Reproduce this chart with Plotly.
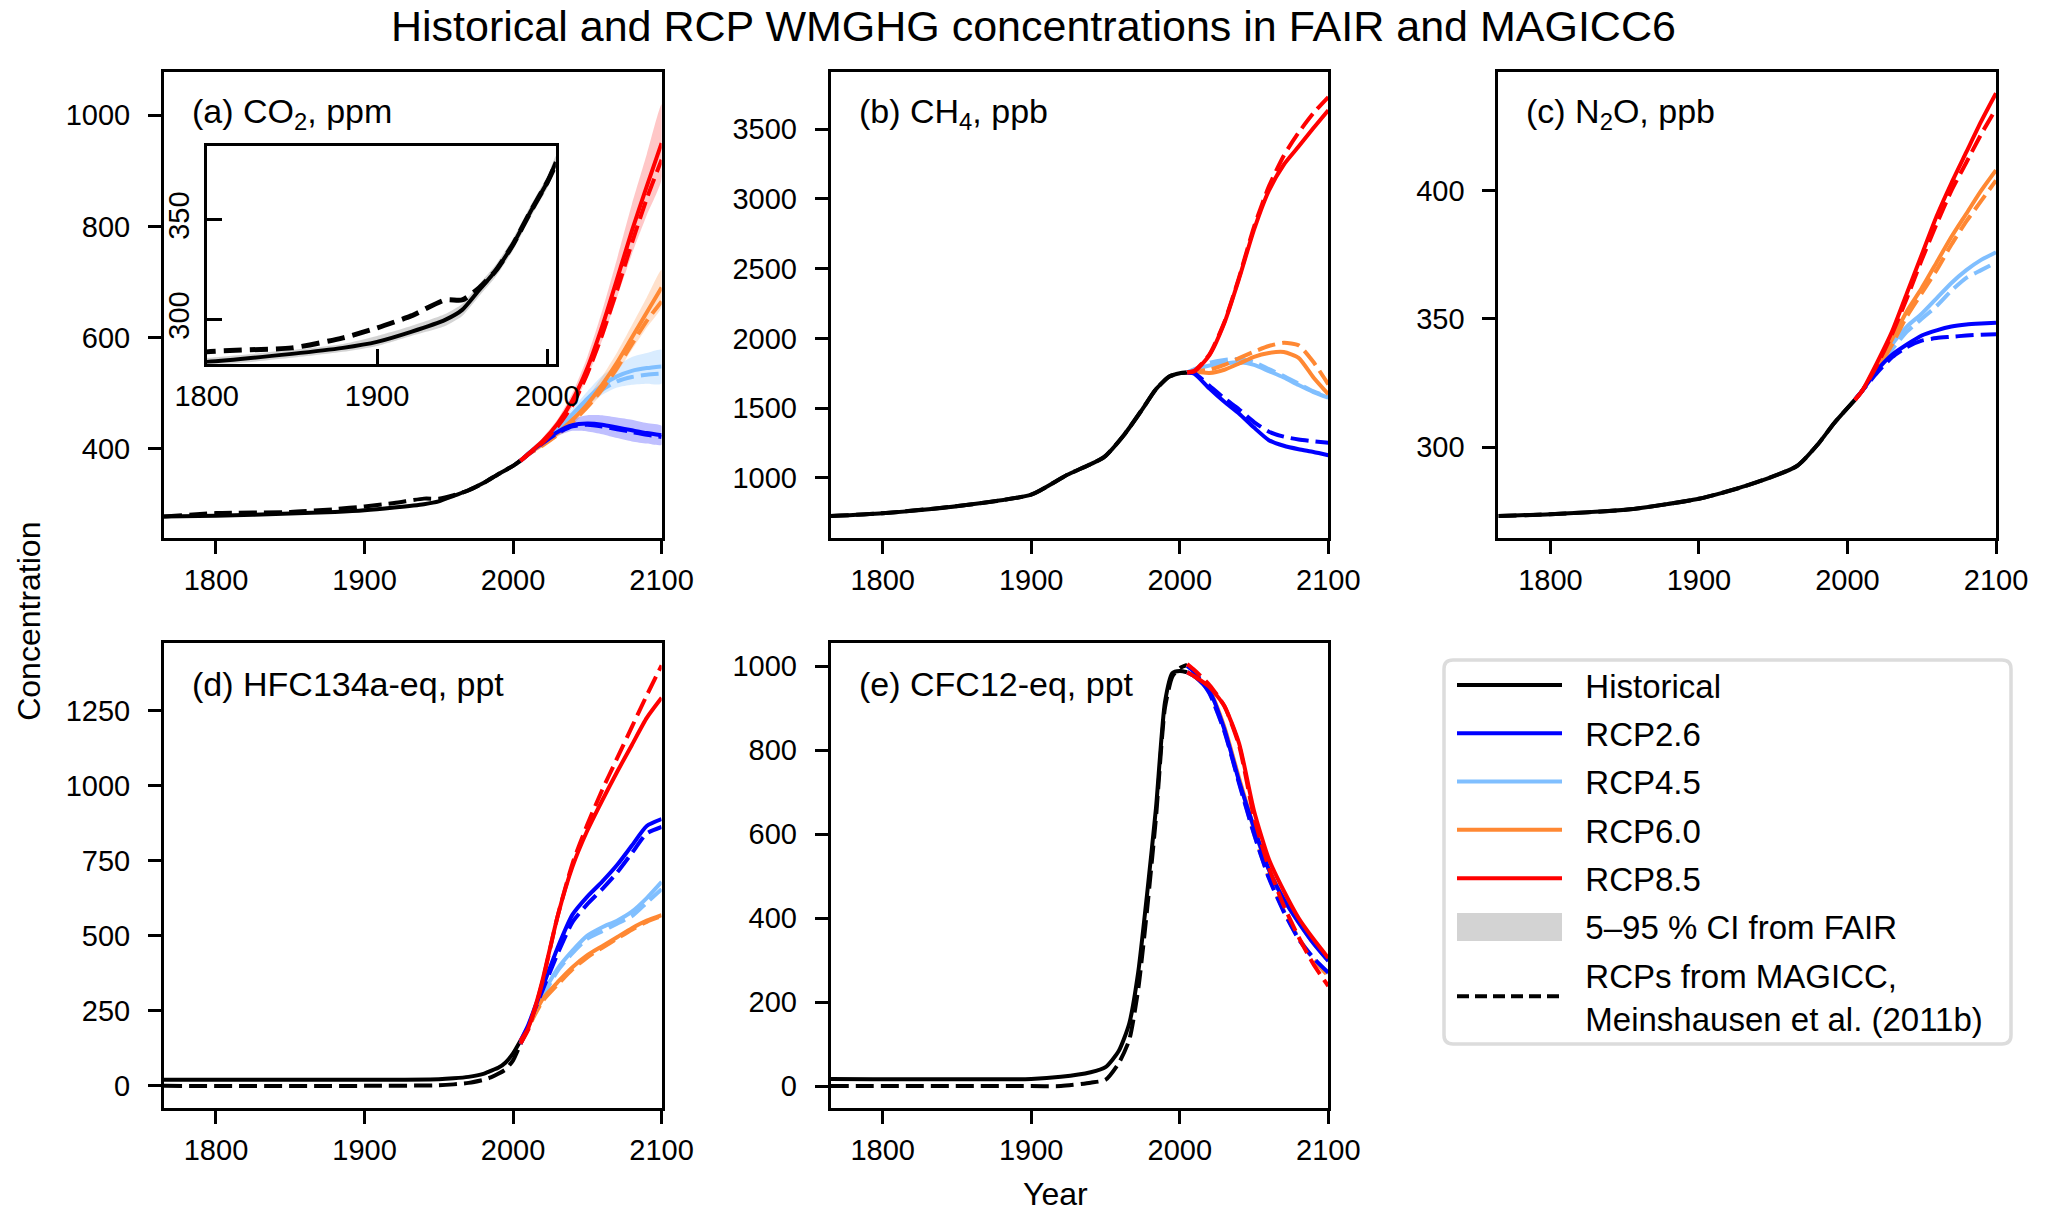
import plotly.graph_objects as go

# ---- data ----
hist_years = [1765, 1800, 1850, 1880, 1900, 1920, 1940, 1950, 1960, 1970, 1980, 1990, 2000, 2005]
fut_years = [2005, 2010, 2020, 2030, 2040, 2050, 2060, 2070, 2080, 2090, 2100]
scenarios = ["RCP2.6", "RCP4.5", "RCP6.0", "RCP8.5"]
colors = {"RCP2.6": "#0000ff", "RCP4.5": "#80bfff", "RCP6.0": "#ff8833", "RCP8.5": "#ff0000"}
fills = {"RCP2.6": "rgba(0,0,255,0.25)", "RCP4.5": "rgba(128,191,255,0.3)",
         "RCP6.0": "rgba(255,136,51,0.25)", "RCP8.5": "rgba(255,0,0,0.22)"}

# CO2, ppm
co2_hist_fair = [278, 279, 283, 286, 289, 294, 300, 305, 315, 325, 338, 354, 369, 379]
co2_hist_lo = [276, 277, 281, 284, 287, 292, 297, 302, 312, 322, 335, 351, 366, 376]
co2_hist_hi = [280, 281, 285, 288, 292, 297, 303, 308, 318, 328, 341, 357, 372, 382]
co2_hist_magicc = [278, 284, 286, 291, 296, 302, 310, 310, 316, 325, 338, 354, 369, 378]
co2_fair = {
    "RCP2.6": [378, 390, 411, 430, 442, 445, 443, 438, 433, 428, 424],
    "RCP4.5": [378, 391, 413, 437, 462, 490, 514, 530, 540, 545, 548],
    "RCP6.0": [378, 390, 408, 428, 452, 480, 515, 555, 600, 645, 690],
    "RCP8.5": [378, 390, 414, 445, 487, 545, 620, 705, 792, 872, 950],
}
co2_lo = {
    "RCP2.6": [376, 388, 406, 423, 432, 431, 426, 419, 413, 409, 407],
    "RCP4.5": [376, 388, 408, 430, 452, 477, 497, 510, 515, 517, 517],
    "RCP6.0": [376, 387, 403, 421, 443, 469, 500, 537, 578, 618, 655],
    "RCP8.5": [376, 387, 409, 437, 475, 528, 595, 672, 750, 820, 885],
}
co2_hi = {
    "RCP2.6": [381, 393, 416, 437, 453, 460, 460, 456, 452, 446, 441],
    "RCP4.5": [381, 394, 418, 444, 472, 503, 531, 550, 565, 572, 578],
    "RCP6.0": [381, 393, 413, 436, 462, 492, 530, 573, 622, 672, 722],
    "RCP8.5": [381, 393, 420, 453, 500, 565, 648, 742, 840, 930, 1020],
}
co2_magicc = {
    "RCP2.6": [378, 389, 410, 428, 440, 443, 440, 435, 430, 425, 421],
    "RCP4.5": [378, 390, 411, 433, 457, 484, 506, 521, 529, 533, 535],
    "RCP6.0": [378, 389, 406, 425, 448, 475, 507, 545, 588, 630, 665],
    "RCP8.5": [378, 389, 411, 440, 478, 535, 605, 685, 770, 850, 920],
}

# CH4, ppb
ch4_hist_years = [1765, 1800, 1855, 1900, 1924, 1949, 1963, 1975, 1984, 1993, 2000, 2005]
ch4_hist = [726, 746, 803, 880, 1020, 1149, 1315, 1495, 1636, 1726, 1750, 1755]
ch4_fair = {
    "RCP2.6": [1755, 1745, 1640, 1545, 1460, 1360, 1270, 1230, 1205, 1185, 1162],
    "RCP4.5": [1755, 1775, 1805, 1820, 1828, 1810, 1765, 1720, 1665, 1615, 1575],
    "RCP6.0": [1755, 1760, 1752, 1775, 1820, 1868, 1895, 1902, 1860, 1720, 1600],
    "RCP8.5": [1755, 1764, 1880, 2110, 2431, 2780, 3060, 3245, 3375, 3508, 3636],
}
ch4_magicc = {
    "RCP2.6": [1755, 1750, 1660, 1570, 1490, 1400, 1330, 1295, 1275, 1262, 1252],
    "RCP4.5": [1755, 1780, 1825, 1845, 1852, 1830, 1780, 1730, 1675, 1620, 1580],
    "RCP6.0": [1755, 1765, 1775, 1810, 1858, 1905, 1945, 1968, 1950, 1830, 1670],
    "RCP8.5": [1755, 1770, 1885, 2115, 2440, 2800, 3090, 3310, 3475, 3615, 3730],
}

# N2O, ppb
n2o_hist_years = [1765, 1800, 1852, 1900, 1932, 1966, 1980, 1991, 2005]
n2o_hist = [273.1, 273.8, 275.6, 279.8, 284.9, 292.6, 301.0, 309.3, 318.4]
n2o_fair = {
    "RCP2.6": [318.4, 322, 330, 336, 340, 343.5, 345.5, 347, 347.8, 348.2, 348.5],
    "RCP4.5": [318.4, 322, 331, 340, 347, 352, 358, 364, 369, 373, 376],
    "RCP6.0": [318.4, 322, 331, 342, 353, 362, 372, 382, 391, 400, 408],
    "RCP8.5": [318.4, 322, 333, 345, 360, 375, 390, 403, 415, 427, 438],
}
n2o_magicc = {
    "RCP2.6": [318.4, 322, 329, 335, 339, 341.5, 342.5, 343, 343.5, 343.8, 344],
    "RCP4.5": [318.4, 322, 330, 338, 345, 350, 355, 361, 366, 369, 372],
    "RCP6.0": [318.4, 322, 330, 340, 351, 360, 369, 379, 388, 396, 404],
    "RCP8.5": [318.4, 322, 332, 344, 358, 373, 387, 400, 411, 422, 432],
}

# HFC134a-eq, ppt
hfc_hist_years = [1765, 1900, 1950, 1960, 1970, 1980, 1985, 1990, 1995, 2000, 2005]
hfc_hist_fair = [20, 20, 22, 25, 30, 40, 50, 60, 78, 108, 150]
hfc_hist_magicc = [0, 0, 2, 5, 10, 20, 28, 40, 55, 85, 140]
hfc_years = [2005, 2010, 2015, 2020, 2030, 2040, 2050, 2060, 2070, 2080, 2090, 2100]
hfc_fair = {
    "RCP2.6": [150, 200, 265, 330, 460, 570, 630, 680, 735, 800, 865, 888],
    "RCP4.5": [150, 195, 255, 305, 390, 450, 500, 528, 550, 580, 625, 679],
    "RCP6.0": [150, 195, 245, 290, 345, 395, 435, 465, 495, 525, 550, 568],
    "RCP8.5": [150, 190, 265, 355, 565, 730, 850, 950, 1045, 1135, 1225, 1292],
}
hfc_magicc = {
    "RCP2.6": [140, 195, 258, 320, 440, 545, 605, 655, 710, 775, 840, 862],
    "RCP4.5": [140, 190, 248, 297, 383, 442, 490, 515, 540, 565, 610, 655],
    "RCP6.0": [140, 190, 240, 283, 337, 388, 428, 460, 490, 520, 546, 565],
    "RCP8.5": [140, 185, 260, 350, 565, 740, 870, 985, 1090, 1195, 1300, 1400],
}

# CFC12-eq, ppt
cfc_hist_years = [1765, 1900, 1920, 1940, 1950, 1959, 1966, 1972, 1978, 1984, 1990, 1995, 2000, 2005]
cfc_hist_fair = [17, 17, 22, 33, 45, 84, 149, 270, 457, 662, 913, 983, 988, 985]
cfc_hist_magicc = [0, 0, 0, 8, 15, 55, 110, 230, 420, 640, 900, 975, 995, 1003]
cfc_fair = {
    "RCP2.6": [985, 975, 940, 850, 725, 615, 515, 445, 390, 340, 298],
    "RCP4.5": [985, 975, 940, 852, 728, 612, 515, 445, 390, 340, 298],
    "RCP6.0": [985, 975, 942, 855, 732, 615, 516, 446, 391, 341, 299],
    "RCP8.5": [985, 975, 950, 905, 815, 655, 540, 465, 400, 350, 305],
}
cfc_magicc = {
    "RCP2.6": [1000, 985, 935, 845, 720, 600, 495, 415, 350, 305, 270],
    "RCP4.5": [1000, 985, 935, 845, 722, 600, 497, 417, 352, 305, 268],
    "RCP6.0": [1002, 987, 937, 848, 725, 602, 498, 418, 352, 302, 262],
    "RCP8.5": [1005, 990, 955, 905, 810, 640, 520, 430, 355, 290, 238],
}

FONT = "Liberation Sans, Arial, sans-serif"
LW = 4
DASH = "18px,7px"
NB = "\u00a0\u00a0"
draw_order = ["RCP4.5", "RCP6.0", "RCP2.6", "RCP8.5"]
W, H = 2066.0, 1215.0

fig = go.Figure()


def add_band(xs, lo, hi, fill, ax):
    fig.add_trace(go.Scatter(x=xs + xs[::-1], y=hi + lo[::-1], fill="toself", fillcolor=fill,
                             line=dict(width=0, shape="spline", smoothing=0.6), mode="lines",
                             hoverinfo="skip", showlegend=False, xaxis="x" + ax, yaxis="y" + ax))


def add_line(xs, ys, color, ax, dash="solid", width=LW, **kw):
    kw.setdefault("showlegend", False)
    fig.add_trace(go.Scatter(x=xs, y=ys, mode="lines",
                             line=dict(color=color, width=width, dash=dash, shape="spline", smoothing=0.6),
                             xaxis="x" + ax, yaxis="y" + ax, **kw))


def add_panel(ax, hx, hy_fair, hy_magicc, fx, fair, magicc):
    add_line(hx, hy_magicc, "black", ax, dash=DASH)
    add_line(hx, hy_fair, "black", ax)
    for s in draw_order:
        add_line(fx, fair[s], colors[s], ax)
        add_line(fx, magicc[s], colors[s], ax, dash=DASH)


# (a) CO2 with uncertainty bands
add_band(hist_years, co2_hist_lo, co2_hist_hi, "rgba(0,0,0,0.17)", "")
for s in draw_order:
    add_band(fut_years, co2_lo[s], co2_hi[s], fills[s], "")
add_line(hist_years, co2_hist_magicc, "black", "", dash=DASH)
add_line(hist_years, co2_hist_fair, "black", "")
for s in draw_order:
    add_line(fut_years, co2_fair[s], colors[s], "")
    add_line(fut_years, co2_magicc[s], colors[s], "", dash=DASH)

# inset of (a)
add_band(hist_years, co2_hist_lo, co2_hist_hi, "rgba(0,0,0,0.17)", "6")
add_line(hist_years, co2_hist_fair, "black", "6", width=4)
add_line(hist_years, co2_hist_magicc, "black", "6", dash="18px,8px", width=5)

add_panel("2", ch4_hist_years, ch4_hist, ch4_hist, fut_years, ch4_fair, ch4_magicc)
add_panel("3", n2o_hist_years, n2o_hist, n2o_hist, fut_years, n2o_fair, n2o_magicc)
add_panel("4", hfc_hist_years, hfc_hist_fair, hfc_hist_magicc, hfc_years, hfc_fair, hfc_magicc)
add_panel("5", cfc_hist_years, cfc_hist_fair, cfc_hist_magicc, fut_years, cfc_fair, cfc_magicc)

# legend-only entries
legend_items = [("Historical", "black", "solid"), ("RCP2.6", colors["RCP2.6"], "solid"),
                ("RCP4.5", colors["RCP4.5"], "solid"), ("RCP6.0", colors["RCP6.0"], "solid"),
                ("RCP8.5", colors["RCP8.5"], "solid"), ("5–95 % CI from FAIR", "rgba(0,0,0,0)", "solid"),
                ("RCPs from MAGICC,<br>" + NB + "Meinshausen et al. (2011b)", "black", "12px,6px")]
for i, (name, col, dsh) in enumerate(legend_items):
    fig.add_trace(go.Scatter(x=[None], y=[None], mode="lines", name=NB + name, legendgroup="g%d" % i,
                             legendrank=i + 1, line=dict(color=col, width=4, dash=dsh),
                             xaxis="x5", yaxis="y5"))

# panel frames in pixels of the 2066x1215 picture
col_px = [(164, 661.6), (830.7, 1328.3), (1498.4, 1996)]
row_px = [(72, 537.5), (642.5, 1107.5)]
col_dom = [[a / W, b / W] for a, b in col_px]
row_dom = [[1 - b / H, 1 - a / H] for a, b in row_px]

axis_style = dict(showline=True, mirror=True, linecolor="black", linewidth=3, showgrid=False,
                  zeroline=False, ticks="outside", ticklen=13, tickwidth=2.6, tickcolor="black",
                  automargin=False, tickfont=dict(family=FONT, size=29, color="black"))

panels = [
    ("", 0, 0, [240, 1078], [400, 600, 800, 1000]),
    ("2", 1, 0, [572, 3910], [1000, 1500, 2000, 2500, 3000, 3500]),
    ("3", 2, 0, [264.7, 446.3], [300, 350, 400]),
    ("4", 0, 1, [-72, 1476], [0, 250, 500, 750, 1000, 1250]),
    ("5", 1, 1, [-51, 1056], [0, 200, 400, 600, 800, 1000]),
]
labels = ["(a) CO<sub>2</sub>, ppm", "(b) CH<sub>4</sub>, ppb", "(c) N<sub>2</sub>O, ppb",
          "(d) HFC134a-eq, ppt", "(e) CFC12-eq, ppt"]

layout_axes = {}
annotations = []
for (ax, c, r, yr, yt), lab in zip(panels, labels):
    layout_axes["xaxis" + ax] = dict(axis_style, domain=col_dom[c], range=[1765, 2100], ticklabelstandoff=2,
                                     tickvals=[1800, 1900, 2000, 2100], anchor="y" + ax)
    layout_axes["yaxis" + ax] = dict(axis_style, domain=row_dom[r], range=yr, tickvals=yt,
                                     ticklabelstandoff=12, anchor="x" + ax)
    annotations.append(dict(text=lab, xref="x" + ax + " domain", yref="y" + ax + " domain",
                            x=0.052, y=0.91, xanchor="left", yanchor="middle", showarrow=False,
                            font=dict(family=FONT, size=34, color="black")))

# inset axes inside panel (a)
ax_w = col_dom[0][1] - col_dom[0][0]
ax_h = row_dom[0][1] - row_dom[0][0]
inset_style = dict(axis_style, ticks="inside", ticklen=15)
layout_axes["xaxis6"] = dict(inset_style, domain=[col_dom[0][0] + 0.0858 * ax_w, col_dom[0][0] + 0.7875 * ax_w],
                             range=[1800, 2005], tickvals=[1800, 1900, 2000], ticklabelstandoff=4, anchor="y6")
layout_axes["yaxis6"] = dict(inset_style, domain=[row_dom[0][0] + 0.373 * ax_h, row_dom[0][0] + 0.841 * ax_h],
                             range=[278, 387], tickvals=[300, 350], tickangle=-90, ticklabelstandoff=3,
                             anchor="x6")

annotations += [
    dict(text="Historical and RCP WMGHG concentrations in FAIR and MAGICC6", xref="paper", yref="paper",
         x=0.5, y=1 - 26 / H, xanchor="center", yanchor="middle", showarrow=False,
         font=dict(family=FONT, size=43, color="black")),
    dict(text="Concentration", xref="paper", yref="paper", x=0.014, y=0.489, textangle=-90,
         xanchor="center", yanchor="middle", showarrow=False, font=dict(family=FONT, size=32, color="black")),
    dict(text="Year", xref="paper", yref="paper", x=0.5107, y=1 - 1194 / H, xanchor="center", yanchor="middle",
         showarrow=False, font=dict(family=FONT, size=32, color="black")),
]

# legend frame (rounded) and the grey CI patch, in paper coordinates
lx0, lx1, ly0, ly1, rad = 1444 / W, 2011 / W, 1 - 1044 / H, 1 - 660 / H, 9
rx, ry = rad / W, rad / H
frame = (f"M{lx0 + rx},{ly1} L{lx1 - rx},{ly1} Q{lx1},{ly1} {lx1},{ly1 - ry} "
         f"L{lx1},{ly0 + ry} Q{lx1},{ly0} {lx1 - rx},{ly0} L{lx0 + rx},{ly0} "
         f"Q{lx0},{ly0} {lx0},{ly0 + ry} L{lx0},{ly1 - ry} Q{lx0},{ly1} {lx0 + rx},{ly1} Z")
shapes = [
    dict(type="path", path=frame, xref="paper", yref="paper", line=dict(color="#dcdcdc", width=3.5),
         fillcolor="rgba(255,255,255,0.85)", layer="below"),
    dict(type="rect", xref="paper", yref="paper", x0=1457 / W, x1=1562 / W, y0=1 - 941 / H, y1=1 - 913 / H,
         fillcolor="#d3d3d3", line=dict(width=0), layer="below"),
]

fig.update_layout(
    width=2066, height=1215,
    margin=dict(l=0, r=0, t=0, b=0),
    paper_bgcolor="white", plot_bgcolor="white",
    annotations=annotations,
    shapes=shapes,
    legend=dict(x=1452 / W, y=1 - 657 / H, xanchor="left", yanchor="top", bgcolor="rgba(0,0,0,0)",
                borderwidth=0, itemwidth=105, traceorder="grouped", tracegroupgap=2.4,
                font=dict(family=FONT, size=33, color="black")),
    **layout_axes,
)

# page body margin off so the figure sits at the window's top-left corner
fig.write_html("out.html", config={"displayModeBar": False},
               post_script="document.body.style.margin='0';")
